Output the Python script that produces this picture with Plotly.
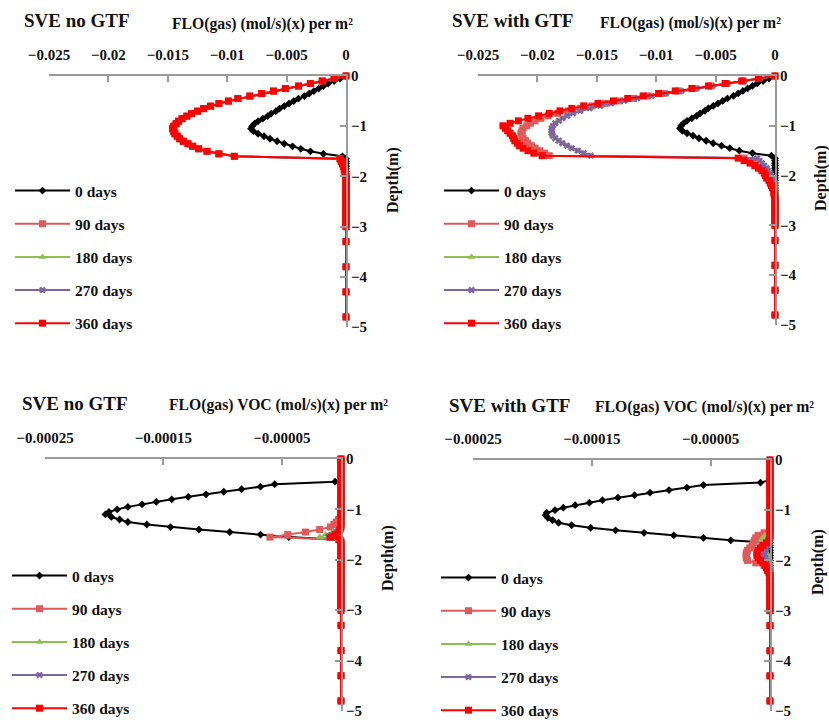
import plotly.graph_objects as go

# ---------------- data ----------------
depth = [0.0, -0.05, -0.1, -0.15, -0.2, -0.25, -0.3, -0.35, -0.4, -0.45,
         -0.5, -0.55, -0.6, -0.65, -0.7, -0.75, -0.8, -0.85, -0.9, -0.95,
         -1.0, -1.05, -1.1, -1.15, -1.2, -1.25, -1.3, -1.35, -1.4, -1.45,
         -1.5, -1.55, -1.6, -1.65, -1.7, -1.75, -1.8, -1.85, -1.9, -1.95,
         -2.0, -2.05, -2.1, -2.15, -2.2, -2.25, -2.3, -2.35, -2.4, -2.45,
         -2.5, -2.55, -2.6, -2.65, -2.7, -2.75, -2.8, -2.85, -2.9, -2.95,
         -3.0, -3.3, -3.8, -4.3, -4.8]

days_labels = ["0 days", "90 days", "180 days", "270 days", "360 days"]

# FLO(gas), SVE no GTF
flo_nogtf_0 = [0, -0.0005, -0.0010, -0.0015, -0.0019, -0.0023, -0.0027, -0.0031, -0.0035, -0.0040,
               -0.0044, -0.0048, -0.0052, -0.0056, -0.0059, -0.0063, -0.0066, -0.0070, -0.0074, -0.0077,
               -0.0079, -0.0080, -0.0078, -0.0074, -0.0069, -0.0064, -0.0058, -0.0052, -0.0045, -0.0038,
               -0.0030, -0.0019, -0.0003, 0, 0, 0, 0, 0, 0, 0,
               0, 0, 0, 0, 0, 0, 0, 0, 0, 0,
               0, 0, 0, 0, 0, 0, 0, 0, 0, 0,
               0, 0, 0, 0, 0]
flo_nogtf_360 = [0, -0.0010, -0.0020, -0.0030, -0.0040, -0.0051, -0.0061, -0.0071, -0.0081, -0.0091,
                 -0.0099, -0.0107, -0.0114, -0.0120, -0.0125, -0.0130, -0.0134, -0.0138, -0.0141, -0.0143,
                 -0.0145, -0.0146, -0.0145, -0.0144, -0.0142, -0.0140, -0.0137, -0.0133, -0.0129, -0.0124,
                 -0.0117, -0.0107, -0.0094, -0.0005, -0.0004, -0.0003, -0.0002, -0.00015, -0.0001, -0.00005,
                 0, 0, 0, 0, 0, 0, 0, 0, 0, 0,
                 0, 0, 0, 0, 0, 0, 0, 0, 0, 0,
                 0, 0, 0, 0, 0]
# 90, 180 and 270 days lie under the 360-day curve in this panel
flo_nogtf_90 = flo_nogtf_360
flo_nogtf_180 = flo_nogtf_360
flo_nogtf_270 = flo_nogtf_360

# FLO(gas), SVE with GTF
flo_gtf_0 = flo_nogtf_0
flo_gtf_90 = [0, -0.0014, -0.0027, -0.0041, -0.0054, -0.0068, -0.0081, -0.0094, -0.0107, -0.0119,
              -0.0131, -0.0143, -0.0154, -0.0164, -0.0174, -0.0183, -0.0191, -0.0197, -0.0202, -0.0206,
              -0.0209, -0.0212, -0.0213, -0.0214, -0.0213, -0.0212, -0.0210, -0.0208, -0.0205, -0.0202,
              -0.0198, -0.0194, -0.0190, -0.0026, -0.0021, -0.0017, -0.0013, -0.0011, -0.0009, -0.0007,
              -0.0006, -0.0005, -0.0004, -0.0003, -0.0002, -0.0001, 0, 0, 0, 0,
              0, 0, 0, 0, 0, 0, 0, 0, 0, 0,
              0, 0, 0, 0, 0]
flo_gtf_270 = [0, -0.0013, -0.0026, -0.0040, -0.0053, -0.0066, -0.0079, -0.0092, -0.0104, -0.0116,
               -0.0127, -0.0138, -0.0147, -0.0156, -0.0164, -0.0170, -0.0175, -0.0179, -0.0182, -0.0185,
               -0.0187, -0.0188, -0.0188, -0.0188, -0.0187, -0.0185, -0.0182, -0.0179, -0.0175, -0.0171,
               -0.0166, -0.0161, -0.0155, -0.0015, -0.0013, -0.0011, -0.0009, -0.0007, -0.0006, -0.0004,
               -0.0003, -0.0002, -0.0001, 0, 0, 0, 0, 0, 0, 0,
               0, 0, 0, 0, 0, 0, 0, 0, 0, 0,
               0, 0, 0, 0, 0]
flo_gtf_180 = flo_gtf_270
flo_gtf_360 = [0, -0.0014, -0.0028, -0.0042, -0.0056, -0.0070, -0.0084, -0.0098, -0.0111, -0.0124,
               -0.0136, -0.0149, -0.0161, -0.0171, -0.0181, -0.0190, -0.0199, -0.0208, -0.0216, -0.0223,
               -0.0229, -0.0227, -0.0225, -0.0223, -0.0221, -0.0220, -0.0219, -0.0217, -0.0215, -0.0212,
               -0.0208, -0.0203, -0.0196, -0.0031, -0.0026, -0.0021, -0.0017, -0.0014, -0.0011, -0.0009,
               -0.0008, -0.0007, -0.0005, -0.0004, -0.0003, -0.0002, -0.0001, -0.0001, -0.00005, 0,
               0, 0, 0, 0, 0, 0, 0, 0, 0, 0,
               0, 0, 0, 0, 0]

# FLO(gas) VOC, SVE no GTF
voc_nogtf_0 = [0, 0, 0, 0, 0, 0, 0, 0, 0, -0.000005,
               -0.000056, -0.000068, -0.000084, -0.000099, -0.000114, -0.000129, -0.000143, -0.000156, -0.000168, -0.000180,
               -0.000189, -0.000196, -0.000199, -0.000194, -0.000187, -0.000180, -0.000164, -0.000144, -0.000120, -0.000094,
               -0.000068, -0.000044, -0.000003, 0, 0, 0, 0, 0, 0, 0,
               0, 0, 0, 0, 0, 0, 0, 0, 0, 0,
               0, 0, 0, 0, 0, 0, 0, 0, 0, 0,
               0, 0, 0, 0, 0]
voc_nogtf_90 = [0, 0, 0, 0, 0, 0, 0, 0, 0, 0,
                0, 0, 0, 0, 0, 0, 0, 0, 0, 0,
                0, 0, 0, 0, -0.000002, -0.000004, -0.000006, -0.000009, -0.000018, -0.000030,
                -0.000045, -0.000060, -0.000002, 0, 0, 0, 0, 0, 0, 0,
                0, 0, 0, 0, 0, 0, 0, 0, 0, 0,
                0, 0, 0, 0, 0, 0, 0, 0, 0, 0,
                0, 0, 0, 0, 0]
voc_nogtf_180 = [0, 0, 0, 0, 0, 0, 0, 0, 0, 0,
                 0, 0, 0, 0, 0, 0, 0, 0, 0, 0,
                 0, 0, 0, 0, 0, 0, 0, 0, -0.000003, -0.000007,
                 -0.000013, -0.000018, -0.000001, 0, 0, 0, 0, 0, 0, 0,
                 0, 0, 0, 0, 0, 0, 0, 0, 0, 0,
                 0, 0, 0, 0, 0, 0, 0, 0, 0, 0,
                 0, 0, 0, 0, 0]
voc_nogtf_270 = [0, 0, 0, 0, 0, 0, 0, 0, 0, 0,
                 0, 0, 0, 0, 0, 0, 0, 0, 0, 0,
                 0, 0, 0, 0, 0, 0, 0, 0, 0, -0.000004,
                 -0.000008, -0.000011, 0, 0, 0, 0, 0, 0, 0, 0,
                 0, 0, 0, 0, 0, 0, 0, 0, 0, 0,
                 0, 0, 0, 0, 0, 0, 0, 0, 0, 0,
                 0, 0, 0, 0, 0]
voc_nogtf_360 = [0, 0, 0, 0, 0, 0, 0, 0, 0, 0,
                 0, 0, 0, 0, 0, 0, 0, 0, 0, 0,
                 0, 0, 0, 0, 0, 0, 0, 0, -0.000001, -0.000002,
                 -0.000005, -0.000009, -0.000001, 0, 0, 0, 0, 0, 0, 0,
                 0, 0, 0, 0, 0, 0, 0, 0, 0, 0,
                 0, 0, 0, 0, 0, 0, 0, 0, 0, 0,
                 0, 0, 0, 0, 0]

# FLO(gas) VOC, SVE with GTF
voc_gtf_0 = [0, 0, 0, 0, 0, 0, 0, 0, 0, -0.000008,
             -0.000056, -0.000070, -0.000085, -0.000101, -0.000114, -0.000128, -0.000141, -0.000152, -0.000164, -0.000174,
             -0.000181, -0.000188, -0.000189, -0.000187, -0.000183, -0.000178, -0.000167, -0.000151, -0.000130, -0.000106,
             -0.000081, -0.000056, -0.000033, 0, 0, 0, 0, 0, 0, 0,
             0, 0, 0, 0, 0, 0, 0, 0, 0, 0,
             0, 0, 0, 0, 0, 0, 0, 0, 0, 0,
             0, 0, 0, 0, 0]
voc_gtf_90 = [0, 0, 0, 0, 0, 0, 0, 0, 0, 0,
              0, 0, 0, 0, 0, 0, 0, 0, 0, 0,
              0, 0, 0, 0, 0, 0, 0, 0, 0, -0.000005,
              -0.000010, -0.000012, -0.000013, -0.000014, -0.000015, -0.000017, -0.000019, -0.000020, -0.000020, -0.000020,
              -0.000019, -0.000012, -0.000005, -0.000002, 0, 0, 0, 0, 0, 0,
              0, 0, 0, 0, 0, 0, 0, 0, 0, 0,
              0, 0, 0, 0, 0]
voc_gtf_180 = [0, 0, 0, 0, 0, 0, 0, 0, 0, 0,
               0, 0, 0, 0, 0, 0, 0, 0, 0, 0,
               0, 0, 0, 0, 0, 0, 0, 0, 0, 0,
               -0.000004, -0.000006, -0.000007, -0.000007, -0.000006, -0.000005, -0.000004, -0.000003, -0.000002, -0.000001,
               0, 0, 0, 0, 0, 0, 0, 0, 0, 0,
               0, 0, 0, 0, 0, 0, 0, 0, 0, 0,
               0, 0, 0, 0, 0]
voc_gtf_270 = [0, 0, 0, 0, 0, 0, 0, 0, 0, 0,
               0, 0, 0, 0, 0, 0, 0, 0, 0, 0,
               0, 0, 0, 0, 0, 0, 0, 0, 0, 0,
               0, 0, 0, 0, -0.000002, -0.000003, -0.000004, -0.000005, -0.000005, -0.000004,
               -0.000003, -0.000002, -0.000001, 0, 0, 0, 0, 0, 0, 0,
               0, 0, 0, 0, 0, 0, 0, 0, 0, 0,
               0, 0, 0, 0, 0]
voc_gtf_360 = [0, 0, 0, 0, 0, 0, 0, 0, 0, 0,
               0, 0, 0, 0, 0, 0, 0, 0, 0, 0,
               0, 0, 0, 0, 0, 0, 0, 0, 0, 0,
               0, 0, -0.000001, -0.000003, -0.000006, -0.000008, -0.000010, -0.000011, -0.000011, -0.000010,
               -0.000008, -0.000006, -0.000004, -0.000003, -0.000002, -0.000001, 0, 0, 0, 0,
               0, 0, 0, 0, 0, 0, 0, 0, 0, 0,
               0, 0, 0, 0, 0]

flo_tickvals = [-0.025, -0.02, -0.015, -0.01, -0.005, 0]
flo_ticktext = ["\u22120.025", "\u22120.02", "\u22120.015", "\u22120.01", "\u22120.005", "0"]
voc_tickvals = [-0.00025, -0.00015, -0.00005]
voc_ticktext = ["\u22120.00025", "\u22120.00015", "\u22120.00005"]
depth_tickvals = [0, -1, -2, -3, -4, -5]

panel_titles = ["SVE no GTF", "SVE with GTF", "SVE no GTF", "SVE with GTF"]
panel_subtitles = ["FLO(gas) (mol/s)(x) per m\u00b2", "FLO(gas) (mol/s)(x) per m\u00b2",
                   "FLO(gas) VOC (mol/s)(x) per m\u00b2", "FLO(gas) VOC (mol/s)(x) per m\u00b2"]
depth_title = "Depth(m)"

# ---------------- style ----------------
W, H = 829, 720
FONT = "Liberation Serif"
colors = ["#000000", "#E05A5A", "#8DC04F", "#8064A2", "#FF0000"]
symbols = ["diamond", "square", "triangle-up", "x", "square"]
msizes = [6, 7, 7, 6, 7]
AXIS_GRAY = "#9A9A9A"

panels = [
    dict(series=[flo_nogtf_0, flo_nogtf_90, flo_nogtf_180, flo_nogtf_270, flo_nogtf_360],
         xr=[-0.025, 0], tv=flo_tickvals, tt=flo_ticktext,
         xpx=(49, 346), ypx=(76, 327), title=(22, 20), sub=(170, 24), dep=(393, 180),
         leg=(10, 174)),
    dict(series=[flo_gtf_0, flo_gtf_90, flo_gtf_180, flo_gtf_270, flo_gtf_360],
         xr=[-0.025, 0], tv=flo_tickvals, tt=flo_ticktext,
         xpx=(478, 775), ypx=(76, 325), title=(450, 20), sub=(598, 23), dep=(821, 178),
         leg=(439, 174)),
    dict(series=[voc_nogtf_0, voc_nogtf_90, voc_nogtf_180, voc_nogtf_270, voc_nogtf_360],
         xr=[-0.00025, 0], tv=voc_tickvals, tt=voc_ticktext,
         xpx=(45, 341), ypx=(459, 711), title=(20, 403), sub=(167, 405), dep=(388, 558),
         leg=(7, 559)),
    dict(series=[voc_gtf_0, voc_gtf_90, voc_gtf_180, voc_gtf_270, voc_gtf_360],
         xr=[-0.00025, 0], tv=voc_tickvals, tt=voc_ticktext,
         xpx=(473, 770), ypx=(460, 711), title=(447, 405), sub=(593, 407), dep=(818, 562),
         leg=(436, 561)),
]

fig = go.Figure()
annotations = []
layout = dict(width=W, height=H, autosize=False, margin=dict(l=0, r=0, t=0, b=0, autoexpand=False),
              paper_bgcolor="white", plot_bgcolor="white", showlegend=True, hovermode=False)

for p, pan in enumerate(panels):
    k = "" if p == 0 else str(p + 1)
    xa, ya = "x" + k, "y" + k
    leg = "legend" + k
    for s in range(5):
        fig.add_trace(go.Scatter(
            x=pan["series"][s], y=depth, mode="lines+markers", name=days_labels[s],
            xaxis=xa, yaxis=ya, legend=leg, legendgroup=f"p{p}s{s}",
            line=dict(color=colors[s], width=2),
            marker=dict(symbol=symbols[s], size=msizes[s], color=colors[s],
                        line=dict(width=0)),
            cliponaxis=False))
    x0, x1 = pan["xpx"]
    y0, y1 = pan["ypx"]
    layout["xaxis" + k] = dict(
        domain=[x0 / W, x1 / W], range=pan["xr"], side="top", anchor=ya, automargin=False,
        tickmode="array", tickvals=pan["tv"], ticktext=pan["tt"],
        ticks="inside", ticklen=6, tickwidth=1.5, tickcolor=AXIS_GRAY,
        showline=True, linecolor=AXIS_GRAY, linewidth=2,
        showgrid=False, zeroline=False, ticklabelstandoff=8, ticklabeloverflow="allow",
        tickfont=dict(family=FONT, size=15, color="#111111", weight="bold"))
    layout["yaxis" + k] = dict(
        domain=[1 - y1 / H, 1 - y0 / H], range=[-5, 0], side="right", anchor=xa, automargin=False,
        tickmode="array", tickvals=depth_tickvals,
        ticks="inside", ticklen=6, tickwidth=1.5, tickcolor=AXIS_GRAY,
        showline=True, linecolor=AXIS_GRAY, linewidth=2,
        showgrid=False, zeroline=False, ticklabelstandoff=0, ticklabeloverflow="allow",
        tickfont=dict(family=FONT, size=15, color="#111111", weight="bold"))
    lx, ly = pan["leg"]
    layout[leg] = dict(
        x=lx / W, y=1 - ly / H, xanchor="left", yanchor="top",
        bgcolor="rgba(0,0,0,0)", borderwidth=0, tracegroupgap=10, itemwidth=55,
        font=dict(family=FONT, size=15.5, color="#111111", weight="bold"))
    tx, ty = pan["title"]
    annotations.append(dict(text=panel_titles[p], x=tx / W, y=1 - ty / H, xref="paper", yref="paper",
                            xanchor="left", yanchor="middle", showarrow=False,
                            font=dict(family=FONT, size=19, color="#111111", weight="bold")))
    sx, sy = pan["sub"]
    annotations.append(dict(text=panel_subtitles[p], x=sx / W, y=1 - sy / H, xref="paper", yref="paper",
                            xanchor="left", yanchor="middle", showarrow=False,
                            font=dict(family=FONT, size=15.7, color="#111111", weight="bold")))
    dx, dy = pan["dep"]
    annotations.append(dict(text=depth_title, x=dx / W, y=1 - dy / H, xref="paper", yref="paper",
                            xanchor="center", yanchor="middle", showarrow=False, textangle=-90,
                            font=dict(family=FONT, size=16, color="#111111", weight="bold")))

layout["annotations"] = annotations
fig.update_layout(**layout)
# remove the browser's default 8px page margin so the figure sits at the window origin
fig.write_html("out.html", config={"displayModeBar": False},
               post_script="document.body.style.margin='0';document.body.style.overflow='hidden';")
